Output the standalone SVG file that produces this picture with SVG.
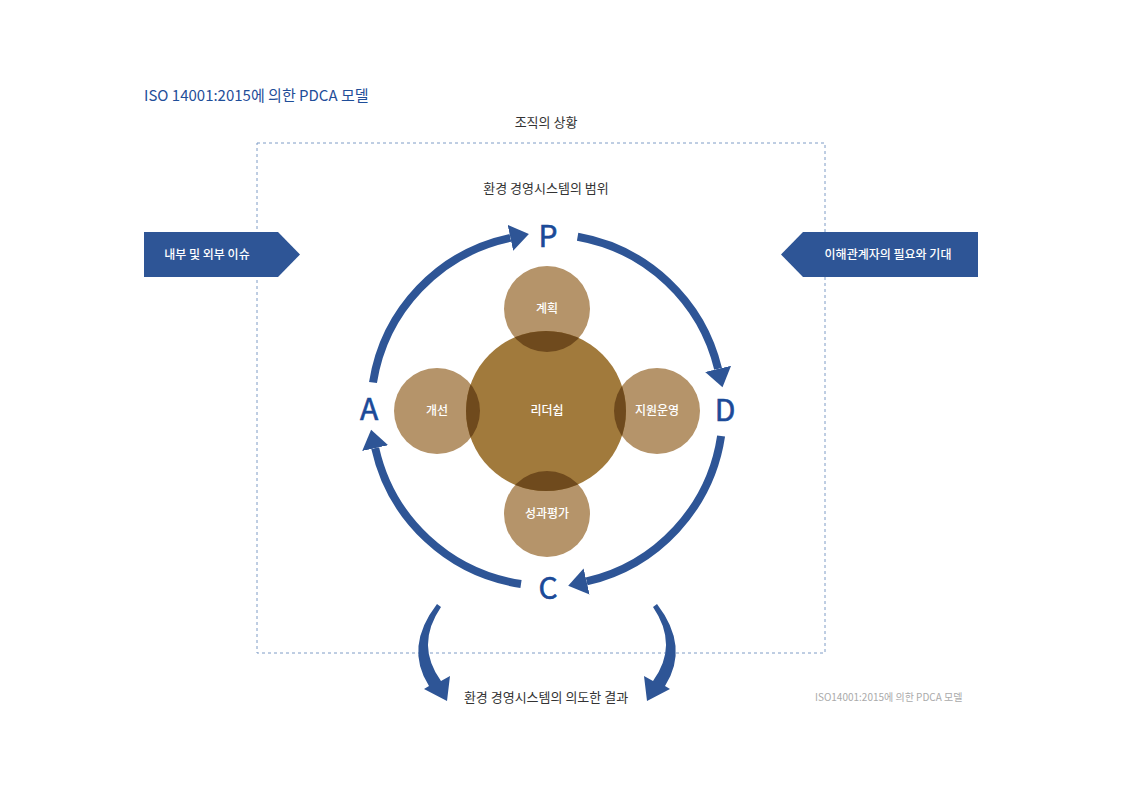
<svg xmlns="http://www.w3.org/2000/svg" width="1123" height="794" viewBox="0 0 1123 794">
<style>
.t{font-family:"Noto Sans CJK KR","Noto Sans",sans-serif;}
.lbl{font-family:"Noto Sans CJK KR","Noto Sans",sans-serif;font-size:13px;fill:#333;text-anchor:middle;}
.cir{font-family:"Noto Sans CJK KR","Noto Sans",sans-serif;font-size:12px;font-weight:500;fill:#fff;text-anchor:middle;}
.ltr{font-family:"Noto Sans CJK KR","Noto Sans",sans-serif;font-size:30px;fill:#1b4a98;text-anchor:middle;stroke:#1b4a98;stroke-width:0.6;}
.arc{fill:none;stroke:#2e5596;stroke-width:8;}
.small{fill:#b5946a;}
.lens{fill:#6f4a1d;}
</style>
<defs>
<marker id="ah" markerUnits="userSpaceOnUse" markerWidth="20" markerHeight="28" refX="0" refY="12" orient="auto" viewBox="0 0 18 24">
<path d="M0,0 L17,12 L0,24 z" fill="#2e5596"/>
</marker>
<clipPath id="bigclip"><circle cx="546" cy="411" r="80"/></clipPath>
</defs>
<rect width="1123" height="794" fill="#fff"/>
<text class="t" x="144" y="101" font-size="15" fill="#1f4e99">ISO 14001:2015에 의한 PDCA 모델</text>
<text class="lbl" x="546" y="127">조직의 상황</text>
<rect x="257" y="143" width="568" height="510" fill="none" stroke="#7f9cc6" stroke-width="1" stroke-dasharray="3,3"/>
<text class="lbl" x="546" y="193">환경 경영시스템의 범위</text>

<g id="issues">
<polygon points="144,232 278,232 300,254.5 278,277 144,277" fill="#2e5596"/>
<text class="cir" x="207" y="259" font-weight="bold">내부 및 외부 이슈</text>
</g>
<g id="needs">
<polygon points="978,232 803,232 781,254.5 803,277 978,277" fill="#2e5596"/>
<text class="cir" x="888" y="259" font-weight="bold">이해관계자의 필요와 기대</text>
</g>

<g id="connectors">
<path class="arc" d="M373,382.5 A176,176 0 0 1 510.4,237.8" marker-end="url(#ah)"/>
<path class="arc" d="M577.6,236.7 A176,176 0 0 1 718.1,368.9" marker-end="url(#ah)"/>
<path class="arc" d="M721.1,436 A176,176 0 0 1 586.6,581.4" marker-end="url(#ah)"/>
<path class="arc" d="M521,584 A176,176 0 0 1 375.2,448.1" marker-end="url(#ah)"/>
<path d="M437,604 Q404,647 429,686 L424,689 L447,701 L450,676 L441,681 Q415,645 441,607 Z" fill="#2e5596"/>
<path d="M657,604 Q690,647 665,686 L670,689 L647,701 L644,676 L653,681 Q679,645 653,607 Z" fill="#2e5596"/>
</g>

<g id="plan"><circle class="small" cx="547" cy="309" r="43"/></g>
<g id="improve"><circle class="small" cx="437" cy="411" r="43"/></g>
<g id="support"><circle class="small" cx="657" cy="411" r="43"/></g>
<g id="eval"><circle class="small" cx="547" cy="514" r="43"/></g>
<g id="leadership">
<circle cx="546" cy="411" r="80" fill="#a17a3c"/>
<g clip-path="url(#bigclip)">
<circle class="lens" cx="547" cy="309" r="43"/>
<circle class="lens" cx="437" cy="411" r="43"/>
<circle class="lens" cx="657" cy="411" r="43"/>
<circle class="lens" cx="547" cy="514" r="43"/>
</g>
</g>
<text class="cir" x="547" y="313">계획</text>
<text class="cir" x="437" y="415">개선</text>
<text class="cir" x="547" y="415">리더쉽</text>
<text class="cir" x="657" y="415">지원운영</text>
<text class="cir" x="547" y="518">성과평가</text>

<text class="ltr" x="548" y="247">P</text>
<text class="ltr" x="725" y="421">D</text>
<text class="ltr" x="548" y="599">C</text>
<text class="ltr" x="369" y="420">A</text>

<text class="lbl" x="546" y="702">환경 경영시스템의 의도한 결과</text>
<text class="t" x="815" y="701" font-size="10" fill="#aaa">ISO14001:2015에 의한 PDCA 모델</text>
</svg>
